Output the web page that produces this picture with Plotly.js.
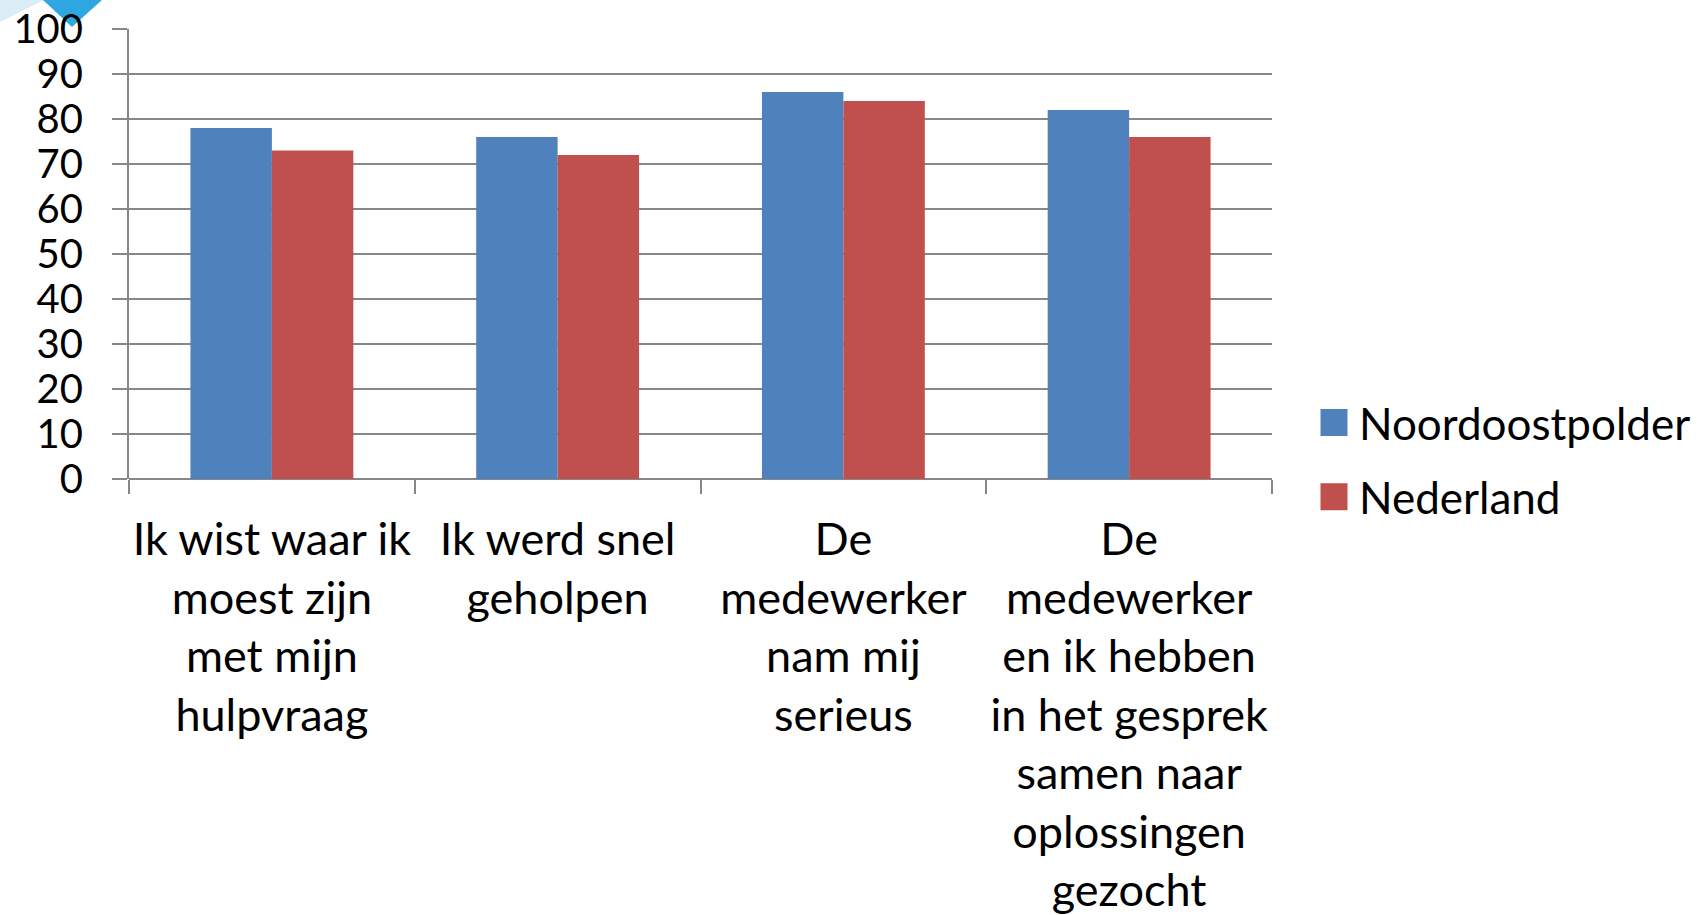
<!DOCTYPE html>
<html>
<head>
<meta charset="utf-8">
<script src="https://cdn.plot.ly/plotly-3.0.1.min.js"></script>
<style>
html,body{margin:0;padding:0;background:#fff;}
#chart{width:1702px;height:915px;}
</style>
</head>
<body>
<div id="chart"></div>
<script>
const categories = [
  "Ik wist waar ik<br>moest zijn<br>met mijn<br>hulpvraag",
  "Ik werd snel<br>geholpen",
  "De<br>medewerker<br>nam mij<br>serieus",
  "De<br>medewerker<br>en ik hebben<br>in het gesprek<br>samen naar<br>oplossingen<br>gezocht"
];
const seriesNames = ["Noordoostpolder", "Nederland"];
const noordoostpolder = [78, 76, 86, 82];
const nederland = [73, 72, 84, 76];
const colors = ["#4F81BD", "#C0504D"];
const yTicks = [0, 10, 20, 30, 40, 50, 60, 70, 80, 90, 100];

const FONT = "Lato, 'Open Sans', 'DejaVu Sans', sans-serif";
const gridColor = "#878787";

const traces = [
  {type: "bar", name: seriesNames[0], x: categories, y: noordoostpolder, legendgroup: "g1",
   marker: {color: colors[0], line: {width: 0}}, hoverinfo: "y+name"},
  {type: "bar", name: seriesNames[1], x: categories, y: nederland, legendgroup: "g2",
   marker: {color: colors[1], line: {width: 0}}, hoverinfo: "y+name"}
];

const W = 1702, H = 915;
const L = 129, R = 1272, T = 29, B = 479;
const px2x = p => (p - L) / (R - L);
const px2y = p => (B - p) / (B - T);

const layout = {
  width: W, height: H,
  margin: {l: L, r: W - R, t: T, b: H - B, pad: 0, autoexpand: false},
  paper_bgcolor: "#ffffff", plot_bgcolor: "#ffffff",
  font: {family: FONT, size: 44, color: "#000000"},
  barmode: "group", bargap: 0.43, bargroupgap: 0,
  showlegend: true,
  legend: {xref: "container", yref: "container",
           x: 1319 / W, xanchor: "left", y: 1 - 460 / H, yanchor: "middle",
           traceorder: "grouped", tracegroupgap: 14,
           font: {family: FONT, size: 44, color: "#000"}, bgcolor: "rgba(0,0,0,0)",
           itemclick: false, itemdoubleclick: false},
  xaxis: {
    type: "category", showgrid: false, zeroline: false,
    showline: false,
    ticks: "outside", tickson: "boundaries", ticklen: 14, tickwidth: 2, tickcolor: gridColor,
    ticklabelstandoff: 30,
    tickfont: {family: FONT, size: 45, color: "#000"},
    tickangle: 0, automargin: false, fixedrange: true
  },
  yaxis: {
    range: [0, 100], tickvals: yTicks, ticktext: yTicks.map(String),
    showgrid: true, gridcolor: gridColor, gridwidth: 2,
    zeroline: true, zerolinecolor: gridColor, zerolinewidth: 2,
    showline: true, linecolor: gridColor, linewidth: 2,
    ticks: "outside", ticklen: 15, tickwidth: 2, tickcolor: gridColor,
    ticklabelstandoff: 21,
    tickfont: {family: FONT, size: 40, color: "#000"},
    automargin: false, fixedrange: true
  },
  shapes: [
    {type: "path", xref: "paper", yref: "paper",
     path: `M ${px2x(0)} ${px2y(0)} L ${px2x(44)} ${px2y(0)} L ${px2x(0)} ${px2y(22)} Z`,
     fillcolor: "#dcecf7", line: {width: 0}, layer: "below"},
    {type: "path", xref: "paper", yref: "paper",
     path: `M ${px2x(43)} ${px2y(0)} L ${px2x(102)} ${px2y(0)} L ${px2x(72)} ${px2y(27)} Z`,
     fillcolor: "#2ea6e2", line: {width: 0}, layer: "below"}
  ]
};

Plotly.newPlot("chart", traces, layout, {displayModeBar: false, responsive: false}).then(gd => {
  gd.querySelectorAll(".legend .legendpoints path").forEach(p => {
    p.setAttribute("d", "M8.5,13.5H-18.5V-13.5H8.5Z");
  });
});
</script>
</body>
</html>
